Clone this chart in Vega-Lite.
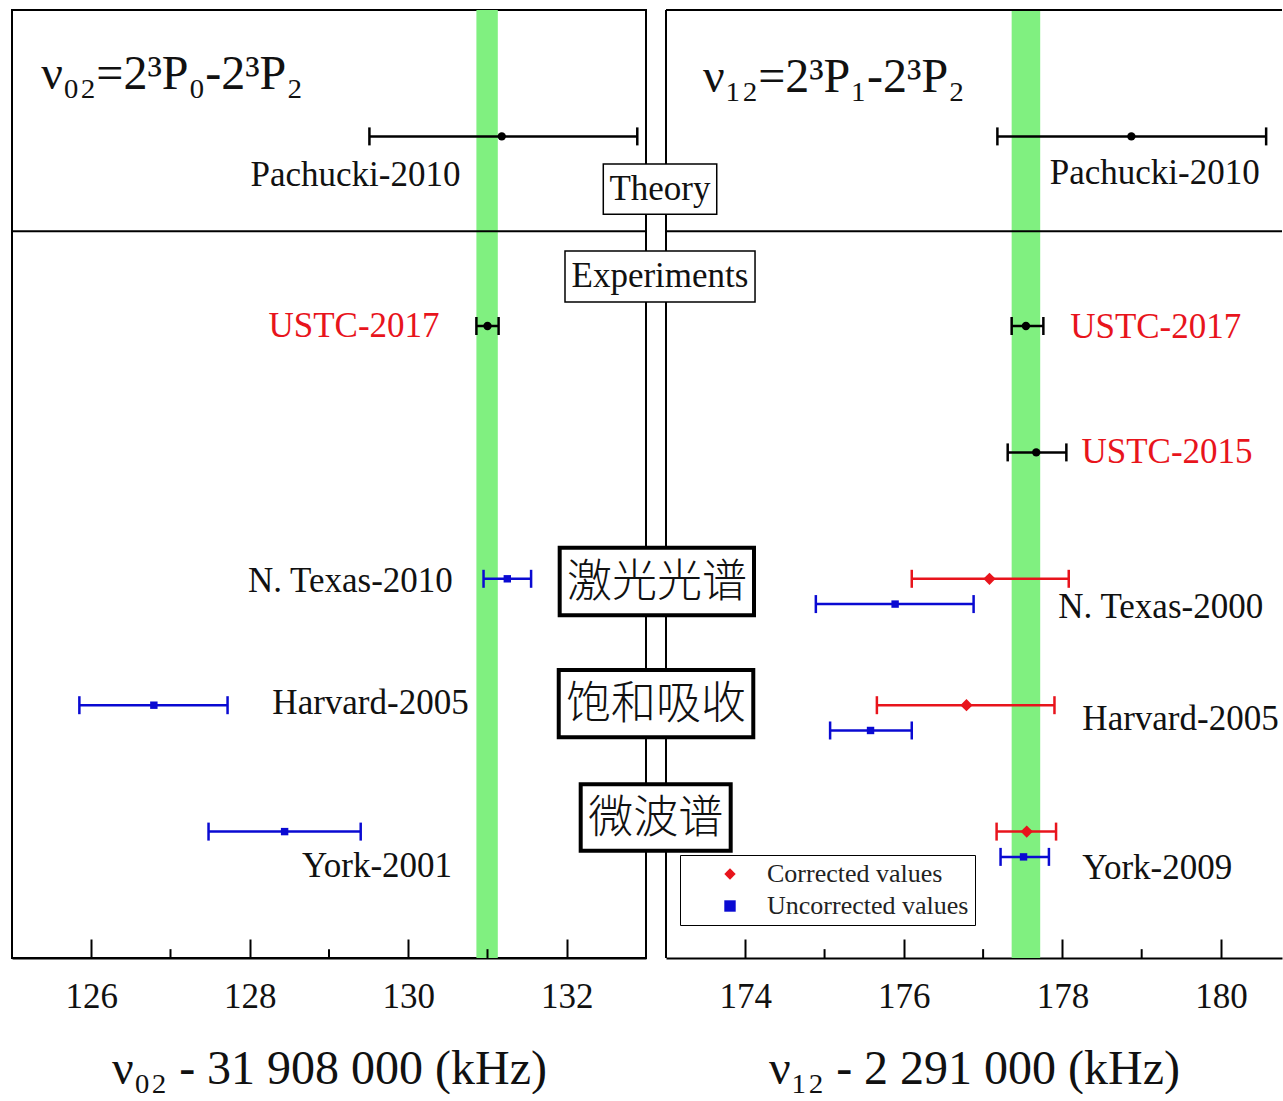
{
  "$schema": "https://vega.github.io/schema/vega-lite/v6.json",
  "padding": {"left": 10, "top": 9, "right": 0, "bottom": 0},
  "background": "white",
  "spacing": 20,
  "bounds": "flush",
  "datasets": {
    "series": [
      {"panel": "L", "name": "Pachucki-2010", "group": "Theory", "value": 131.18, "low": 129.51, "high": 132.89, "row": -1.5},
      {"panel": "L", "name": "USTC-2017", "group": "USTC", "value": 131.0, "low": 130.86, "high": 131.14, "row": 0},
      {"panel": "L", "name": "N. Texas-2010", "group": "Uncorrected values", "value": 131.25, "low": 130.95, "high": 131.55, "row": 2},
      {"panel": "L", "name": "Harvard-2005", "group": "Uncorrected values", "value": 126.79, "low": 125.85, "high": 127.72, "row": 3},
      {"panel": "L", "name": "York-2001", "group": "Uncorrected values", "value": 128.44, "low": 127.48, "high": 129.40, "row": 4},
      {"panel": "R", "name": "Pachucki-2010", "group": "Theory", "value": 178.87, "low": 177.18, "high": 180.57, "row": -1.5},
      {"panel": "R", "name": "USTC-2017", "group": "USTC", "value": 177.54, "low": 177.36, "high": 177.76, "row": 0},
      {"panel": "R", "name": "USTC-2015", "group": "USTC", "value": 177.67, "low": 177.31, "high": 178.05, "row": 1},
      {"panel": "R", "name": "N. Texas-2000", "group": "Corrected values", "value": 177.08, "low": 176.10, "high": 178.08, "row": 2},
      {"panel": "R", "name": "N. Texas-2000", "group": "Uncorrected values", "value": 175.89, "low": 174.89, "high": 176.88, "row": 2.2},
      {"panel": "R", "name": "Harvard-2005", "group": "Corrected values", "value": 176.79, "low": 175.66, "high": 177.90, "row": 3},
      {"panel": "R", "name": "Harvard-2005", "group": "Uncorrected values", "value": 175.58, "low": 175.07, "high": 176.10, "row": 3.2},
      {"panel": "R", "name": "York-2009", "group": "Corrected values", "value": 177.55, "low": 177.17, "high": 177.92, "row": 4},
      {"panel": "R", "name": "York-2009", "group": "Uncorrected values", "value": 177.51, "low": 177.22, "high": 177.83, "row": 4.2}
    ],
    "bands": [
      {"panel": "L", "lo": 130.86, "hi": 131.13},
      {"panel": "R", "lo": 177.36, "hi": 177.72}
    ],
    "divider": [{"row": -0.75}],
    "frame": [{"top": -2.5, "left": 173}],
    "minor": [
      {"panel": "L", "v": 127}, {"panel": "L", "v": 129}, {"panel": "L", "v": 131},
      {"panel": "R", "v": 175}, {"panel": "R", "v": 177}, {"panel": "R", "v": 179}
    ],
    "labels": [
      {"panel": "L", "text": "Pachucki-2010", "x": 129.334, "y": -1.195},
      {"panel": "L", "text": "USTC-2017", "x": 129.316, "y": 0},
      {"panel": "L", "text": "N. Texas-2010", "x": 129.27, "y": 2.017},
      {"panel": "L", "text": "Harvard-2005", "x": 129.524, "y": 2.983},
      {"panel": "L", "text": "York-2001", "x": 129.606, "y": 4.272},
      {"panel": "R", "text": "Pachucki-2010", "x": 179.164, "y": -1.21},
      {"panel": "R", "text": "USTC-2017", "x": 179.177, "y": 0.01},
      {"panel": "R", "text": "USTC-2015", "x": 179.32, "y": 1.0},
      {"panel": "R", "text": "N. Texas-2000", "x": 179.24, "y": 2.223},
      {"panel": "R", "text": "Harvard-2005", "x": 179.49, "y": 3.109},
      {"panel": "R", "text": "York-2009", "x": 179.196, "y": 4.288}
    ],
    "formulas": [
      {"panel": "L", "text": "ν₀₂=2³P₀-2³P₂", "x": 127.02, "y": -1.986},
      {"panel": "R", "text": "ν₁₂=2³P₁-2³P₂", "x": 175.118, "y": -1.962}
    ],
    "boxes": [
      {"kind": "section", "text": "Theory", "x1": 172.209, "x2": 173.640, "y1": -1.282, "y2": -0.884, "tx": 172.924, "ty": -1.084},
      {"kind": "section", "text": "Experiments", "x1": 171.726, "x2": 174.123, "y1": -0.593, "y2": -0.190, "tx": 172.924, "ty": -0.392},
      {"kind": "method", "text": "激光光谱", "x1": 171.659, "x2": 174.110, "y1": 1.754, "y2": 2.289, "tx": 172.886, "ty": 2.035},
      {"kind": "method", "text": "饱和吸收", "x1": 171.647, "x2": 174.101, "y1": 2.722, "y2": 3.254, "tx": 172.874, "ty": 3.0},
      {"kind": "method", "text": "微波谱", "x1": 171.924, "x2": 173.816, "y1": 3.626, "y2": 4.151, "tx": 172.870, "ty": 3.902}
    ]
  },
  "resolve": {
    "scale": {"x": "independent", "y": "independent", "color": "shared", "shape": "shared"},
    "legend": {"color": "independent", "shape": "independent"}
  },
  "hconcat": [
    {
      "width": 634,
      "height": 948,
      "layer": [
        {
          "data": {"name": "bands"},
          "transform": [{"filter": "datum.panel === 'L'"}],
          "mark": {"type": "rect", "color": "#80f080"},
          "encoding": {
            "x": {"field": "lo", "type": "quantitative", "scale": {"domain": [125, 133], "nice": false, "zero": false}, "title": "ν₀₂ - 31 908 000 (kHz)",
              "axis": {"values": [126, 128, 130, 132], "format": "d", "tickSize": -19, "labelPadding": 40, "titlePadding": 31}},
            "x2": {"field": "hi"}
          }
        },
        {
          "data": {"name": "divider"},
          "mark": {"type": "rule", "color": "black", "strokeWidth": 2},
          "encoding": {
            "y": {"field": "row", "type": "quantitative", "scale": {"domain": [-2.5, 5], "reverse": true, "nice": false, "zero": false}, "axis": null}
          }
        },
        {
          "data": {"name": "minor"},
          "transform": [{"filter": "datum.panel === 'L'"}],
          "mark": {"type": "rule", "color": "black", "strokeWidth": 2},
          "encoding": {
            "x": {"field": "v", "type": "quantitative", "title": "ν₀₂ - 31 908 000 (kHz)"},
            "y": {"datum": 5, "type": "quantitative", "scale": {"domain": [-2.5, 5], "reverse": true, "nice": false, "zero": false}, "axis": null},
            "y2": {"datum": 4.93}
          }
        },
        {
          "data": {"name": "series"},
          "transform": [{"filter": "datum.panel === 'L'"}],
          "mark": {"type": "rule", "strokeWidth": 2.5},
          "encoding": {
            "x": {"field": "low", "type": "quantitative", "title": "ν₀₂ - 31 908 000 (kHz)"},
            "x2": {"field": "high"},
            "y": {"field": "row", "type": "quantitative", "scale": {"domain": [-2.5, 5], "reverse": true, "nice": false, "zero": false}, "axis": null},
            "color": {"condition": [{"test": "datum.group === 'Corrected values'", "value": "#e8141c"}, {"test": "datum.group === 'Uncorrected values'", "value": "#0a0ad2"}], "value": "black"}
          }
        },
        {
          "data": {"name": "series"},
          "transform": [{"filter": "datum.panel === 'L'"}],
          "mark": {"type": "tick", "orient": "vertical", "size": 18, "thickness": 2.5, "opacity": 1},
          "encoding": {
            "x": {"field": "low", "type": "quantitative", "title": "ν₀₂ - 31 908 000 (kHz)"},
            "y": {"field": "row", "type": "quantitative", "scale": {"domain": [-2.5, 5], "reverse": true, "nice": false, "zero": false}, "axis": null},
            "color": {"condition": [{"test": "datum.group === 'Corrected values'", "value": "#e8141c"}, {"test": "datum.group === 'Uncorrected values'", "value": "#0a0ad2"}], "value": "black"}
          }
        },
        {
          "data": {"name": "series"},
          "transform": [{"filter": "datum.panel === 'L'"}],
          "mark": {"type": "tick", "orient": "vertical", "size": 18, "thickness": 2.5, "opacity": 1},
          "encoding": {
            "x": {"field": "high", "type": "quantitative", "title": "ν₀₂ - 31 908 000 (kHz)"},
            "y": {"field": "row", "type": "quantitative", "scale": {"domain": [-2.5, 5], "reverse": true, "nice": false, "zero": false}, "axis": null},
            "color": {"condition": [{"test": "datum.group === 'Corrected values'", "value": "#e8141c"}, {"test": "datum.group === 'Uncorrected values'", "value": "#0a0ad2"}], "value": "black"}
          }
        },
        {
          "data": {"name": "series"},
          "transform": [{"filter": "datum.panel === 'L'"}],
          "mark": {"type": "point", "filled": true, "opacity": 1},
          "encoding": {
            "x": {"field": "value", "type": "quantitative", "title": "ν₀₂ - 31 908 000 (kHz)"},
            "y": {"field": "row", "type": "quantitative", "scale": {"domain": [-2.5, 5], "reverse": true, "nice": false, "zero": false}, "axis": null},
            "color": {"field": "group", "type": "nominal", "scale": {"domain": ["Theory", "USTC", "Corrected values", "Uncorrected values"], "range": ["black", "black", "#e8141c", "#0a0ad2"]}, "legend": null},
            "shape": {"field": "group", "type": "nominal", "scale": {"domain": ["Theory", "USTC", "Corrected values", "Uncorrected values"], "range": ["circle", "circle", "diamond", "square"]}, "legend": null},
            "size": {"condition": [{"test": "datum.group === 'Corrected values'", "value": 150}, {"test": "datum.group === 'Uncorrected values'", "value": 55}], "value": 70}
          }
        },
        {
          "data": {"name": "labels"},
          "transform": [{"filter": "datum.panel === 'L'"}],
          "mark": {"type": "text", "fontSize": 35, "align": "center", "baseline": "middle", "font": "Liberation Serif"},
          "encoding": {
            "x": {"field": "x", "type": "quantitative", "title": "ν₀₂ - 31 908 000 (kHz)"},
            "y": {"field": "y", "type": "quantitative", "scale": {"domain": [-2.5, 5], "reverse": true, "nice": false, "zero": false}, "axis": null},
            "text": {"field": "text"},
            "color": {"condition": {"test": "indexof(datum.text, 'USTC') === 0", "value": "#e8141c"}, "value": "#111111"}
          }
        },
        {
          "data": {"name": "formulas"},
          "transform": [{"filter": "datum.panel === 'L'"}],
          "mark": {"type": "text", "fontSize": 48, "align": "center", "baseline": "middle", "font": "Liberation Serif", "color": "#111111"},
          "encoding": {
            "x": {"field": "x", "type": "quantitative", "title": "ν₀₂ - 31 908 000 (kHz)"},
            "y": {"field": "y", "type": "quantitative", "scale": {"domain": [-2.5, 5], "reverse": true, "nice": false, "zero": false}, "axis": null},
            "text": {"field": "text"}
          }
        }
      ]
    },
    {
      "width": 616,
      "height": 948,
      "view": {"stroke": null},
      "layer": [
        {
          "data": {"name": "bands"},
          "transform": [{"filter": "datum.panel === 'R'"}],
          "mark": {"type": "rect", "color": "#80f080"},
          "encoding": {
            "x": {"field": "lo", "type": "quantitative", "scale": {"domain": [173, 180.77], "nice": false, "zero": false}, "title": "ν₁₂ - 2 291 000 (kHz)",
              "axis": {"values": [174, 176, 178, 180], "format": "d", "tickSize": -19, "labelPadding": 40, "titlePadding": 31}},
            "x2": {"field": "hi"}
          }
        },
        {
          "data": {"name": "divider"},
          "mark": {"type": "rule", "color": "black", "strokeWidth": 2},
          "encoding": {
            "y": {"field": "row", "type": "quantitative", "scale": {"domain": [-2.5, 5], "reverse": true, "nice": false, "zero": false}, "axis": null}
          }
        },
        {
          "data": {"name": "frame"},
          "mark": {"type": "rule", "color": "black", "strokeWidth": 2},
          "encoding": {
            "y": {"field": "top", "type": "quantitative", "scale": {"domain": [-2.5, 5], "reverse": true, "nice": false, "zero": false}, "axis": null}
          }
        },
        {
          "data": {"name": "frame"},
          "mark": {"type": "rule", "color": "black", "strokeWidth": 2},
          "encoding": {
            "x": {"field": "left", "type": "quantitative", "title": "ν₁₂ - 2 291 000 (kHz)"}
          }
        },
        {
          "data": {"name": "minor"},
          "transform": [{"filter": "datum.panel === 'R'"}],
          "mark": {"type": "rule", "color": "black", "strokeWidth": 2},
          "encoding": {
            "x": {"field": "v", "type": "quantitative", "title": "ν₁₂ - 2 291 000 (kHz)"},
            "y": {"datum": 5, "type": "quantitative", "scale": {"domain": [-2.5, 5], "reverse": true, "nice": false, "zero": false}, "axis": null},
            "y2": {"datum": 4.93}
          }
        },
        {
          "data": {"name": "series"},
          "transform": [{"filter": "datum.panel === 'R'"}],
          "mark": {"type": "rule", "strokeWidth": 2.5},
          "encoding": {
            "x": {"field": "low", "type": "quantitative", "title": "ν₁₂ - 2 291 000 (kHz)"},
            "x2": {"field": "high"},
            "y": {"field": "row", "type": "quantitative", "scale": {"domain": [-2.5, 5], "reverse": true, "nice": false, "zero": false}, "axis": null},
            "color": {"condition": [{"test": "datum.group === 'Corrected values'", "value": "#e8141c"}, {"test": "datum.group === 'Uncorrected values'", "value": "#0a0ad2"}], "value": "black"}
          }
        },
        {
          "data": {"name": "series"},
          "transform": [{"filter": "datum.panel === 'R'"}],
          "mark": {"type": "tick", "orient": "vertical", "size": 18, "thickness": 2.5, "opacity": 1},
          "encoding": {
            "x": {"field": "low", "type": "quantitative", "title": "ν₁₂ - 2 291 000 (kHz)"},
            "y": {"field": "row", "type": "quantitative", "scale": {"domain": [-2.5, 5], "reverse": true, "nice": false, "zero": false}, "axis": null},
            "color": {"condition": [{"test": "datum.group === 'Corrected values'", "value": "#e8141c"}, {"test": "datum.group === 'Uncorrected values'", "value": "#0a0ad2"}], "value": "black"}
          }
        },
        {
          "data": {"name": "series"},
          "transform": [{"filter": "datum.panel === 'R'"}],
          "mark": {"type": "tick", "orient": "vertical", "size": 18, "thickness": 2.5, "opacity": 1},
          "encoding": {
            "x": {"field": "high", "type": "quantitative", "title": "ν₁₂ - 2 291 000 (kHz)"},
            "y": {"field": "row", "type": "quantitative", "scale": {"domain": [-2.5, 5], "reverse": true, "nice": false, "zero": false}, "axis": null},
            "color": {"condition": [{"test": "datum.group === 'Corrected values'", "value": "#e8141c"}, {"test": "datum.group === 'Uncorrected values'", "value": "#0a0ad2"}], "value": "black"}
          }
        },
        {
          "data": {"name": "series"},
          "transform": [{"filter": "datum.panel === 'R'"}],
          "mark": {"type": "point", "filled": true, "opacity": 1},
          "encoding": {
            "x": {"field": "value", "type": "quantitative", "title": "ν₁₂ - 2 291 000 (kHz)"},
            "y": {"field": "row", "type": "quantitative", "scale": {"domain": [-2.5, 5], "reverse": true, "nice": false, "zero": false}, "axis": null},
            "color": {"field": "group", "type": "nominal", "legend": {"orient": "none", "legendX": 14, "legendY": 845, "title": null, "values": ["Corrected values", "Uncorrected values"]}},
            "shape": {"field": "group", "type": "nominal", "legend": {"orient": "none", "legendX": 14, "legendY": 845, "title": null, "values": ["Corrected values", "Uncorrected values"]}},
            "size": {"condition": [{"test": "datum.group === 'Corrected values'", "value": 150}, {"test": "datum.group === 'Uncorrected values'", "value": 55}], "value": 70}
          }
        },
        {
          "data": {"name": "labels"},
          "transform": [{"filter": "datum.panel === 'R'"}],
          "mark": {"type": "text", "fontSize": 35, "align": "center", "baseline": "middle", "font": "Liberation Serif"},
          "encoding": {
            "x": {"field": "x", "type": "quantitative", "title": "ν₁₂ - 2 291 000 (kHz)"},
            "y": {"field": "y", "type": "quantitative", "scale": {"domain": [-2.5, 5], "reverse": true, "nice": false, "zero": false}, "axis": null},
            "text": {"field": "text"},
            "color": {"condition": {"test": "indexof(datum.text, 'USTC') === 0", "value": "#e8141c"}, "value": "#111111"}
          }
        },
        {
          "data": {"name": "formulas"},
          "transform": [{"filter": "datum.panel === 'R'"}],
          "mark": {"type": "text", "fontSize": 48, "align": "center", "baseline": "middle", "font": "Liberation Serif", "color": "#111111"},
          "encoding": {
            "x": {"field": "x", "type": "quantitative", "title": "ν₁₂ - 2 291 000 (kHz)"},
            "y": {"field": "y", "type": "quantitative", "scale": {"domain": [-2.5, 5], "reverse": true, "nice": false, "zero": false}, "axis": null},
            "text": {"field": "text"}
          }
        },
        {
          "data": {"name": "boxes"},
          "mark": {"type": "rect", "fill": "white", "stroke": "black"},
          "encoding": {
            "x": {"field": "x1", "type": "quantitative", "title": "ν₁₂ - 2 291 000 (kHz)"},
            "x2": {"field": "x2"},
            "y": {"field": "y1", "type": "quantitative", "scale": {"domain": [-2.5, 5], "reverse": true, "nice": false, "zero": false}, "axis": null},
            "y2": {"field": "y2"},
            "strokeWidth": {"condition": {"test": "datum.kind === 'method'", "value": 4}, "value": 1.5}
          }
        },
        {
          "data": {"name": "boxes"},
          "transform": [{"filter": "datum.kind === 'section'"}],
          "mark": {"type": "text", "fontSize": 35, "align": "center", "baseline": "middle", "font": "Liberation Serif", "color": "#111111"},
          "encoding": {
            "x": {"field": "tx", "type": "quantitative", "title": "ν₁₂ - 2 291 000 (kHz)"},
            "y": {"field": "ty", "type": "quantitative", "scale": {"domain": [-2.5, 5], "reverse": true, "nice": false, "zero": false}, "axis": null},
            "text": {"field": "text"}
          }
        },
        {
          "data": {"name": "boxes"},
          "transform": [{"filter": "datum.kind === 'method'"}],
          "mark": {"type": "text", "fontSize": 45, "fontWeight": 300, "align": "center", "baseline": "middle", "font": "Noto Sans CJK SC", "color": "#111111"},
          "encoding": {
            "x": {"field": "tx", "type": "quantitative", "title": "ν₁₂ - 2 291 000 (kHz)"},
            "y": {"field": "ty", "type": "quantitative", "scale": {"domain": [-2.5, 5], "reverse": true, "nice": false, "zero": false}, "axis": null},
            "text": {"field": "text"}
          }
        }
      ]
    }
  ],
  "config": {
    "font": "Liberation Serif",
    "view": {"stroke": "black", "strokeWidth": 2},
    "axis": {
      "domainColor": "black", "domainWidth": 2, "tickColor": "black", "tickWidth": 2,
      "labelColor": "#111111", "labelFont": "Liberation Serif", "labelFontSize": 35,
      "titleFont": "Liberation Serif", "titleFontSize": 48, "titleFontWeight": "normal", "titleColor": "#111111",
      "grid": false
    },
    "legend": {
      "strokeColor": "black", "fillColor": "white", "padding": 6,
      "labelFont": "Liberation Serif", "labelFontSize": 26, "labelColor": "#222222", "labelLimit": 400,
      "symbolOffset": 31, "labelOffset": 24, "rowPadding": 6, "symbolSize": 130
    }
  }
}
